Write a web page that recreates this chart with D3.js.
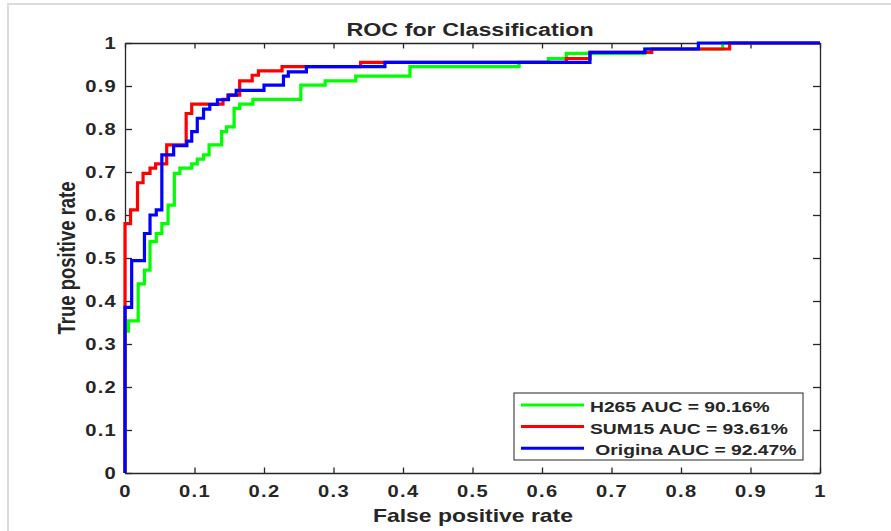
<!DOCTYPE html>
<html>
<head>
    <meta http-equiv="Content-Type" content="text/html;charset=utf-8">
    <title>ROC for Classification</title>
    <script type="text/javascript" src="https://d3js.org/d3.v7.min.js"></script>
    <style>
        html, body {
            margin: 0;
            padding: 0;
            background: #fff;
        }

        text {
            font-family: Arial, "Liberation Sans", sans-serif;
            font-weight: bold;
            fill: #262626;
        }

        .axis path,
        .axis line {
            fill: none;
            stroke: #262626;
            stroke-width: 1.3px;
        }

        .axis text {
            font-size: 16px;
            letter-spacing: 1px;
        }

        path.roc {
            fill: none;
            stroke-width: 3.2px;
        }
    </style>
</head>
<body>
<script type="text/javascript">

    // ---- data ----
    var xTicks = [0, 0.1, 0.2, 0.3, 0.4, 0.5, 0.6, 0.7, 0.8, 0.9, 1];
    var xTickLabels = ["0", "0.1", "0.2", "0.3", "0.4", "0.5", "0.6", "0.7", "0.8", "0.9", "1"];
    var yTicks = [0, 0.1, 0.2, 0.3, 0.4, 0.5, 0.6, 0.7, 0.8, 0.9, 1];
    var yTickLabels = ["0", "0.1", "0.2", "0.3", "0.4", "0.5", "0.6", "0.7", "0.8", "0.9", "1"];

    var seriesNames = ["H265 AUC = 90.16%", "SUM15 AUC = 93.61%", " Origina AUC = 92.47%"];
    var seriesColors = ["#00ff00", "#ff0000", "#0000ff"];

    // each point = (fpr where the curve rises, tpr after the rise)
    var h265Fpr = [0, 0, 0.005, 0.019, 0.028, 0.036, 0.045, 0.053, 0.062, 0.071, 0.079, 0.096, 0.104, 0.113,
        0.121, 0.139, 0.146, 0.157, 0.165, 0.184, 0.253, 0.288, 0.332, 0.41, 0.567, 0.609, 0.635, 0.748, 0.86, 1];
    var h265Tpr = [0, 0.33, 0.354, 0.44, 0.472, 0.538, 0.557, 0.58, 0.623, 0.697, 0.709, 0.719, 0.73, 0.74,
        0.763, 0.794, 0.805, 0.848, 0.858, 0.869, 0.902, 0.912, 0.923, 0.945, 0.955, 0.964, 0.976, 0.986, 1, 1];

    var sum15Fpr = [0, 0, 0.008, 0.018, 0.026, 0.036, 0.044, 0.06, 0.088, 0.096, 0.141, 0.148, 0.165, 0.183,
        0.192, 0.226, 0.339, 0.635, 0.669, 0.758, 0.87, 1];
    var sum15Tpr = [0, 0.58, 0.612, 0.675, 0.697, 0.709, 0.719, 0.763, 0.836, 0.858, 0.869, 0.879, 0.912, 0.925,
        0.935, 0.945, 0.955, 0.964, 0.978, 0.986, 1, 1];

    var origFpr = [0, 0, 0.0096, 0.028, 0.036, 0.045, 0.053, 0.07, 0.089, 0.096, 0.104, 0.113, 0.122, 0.133,
        0.149, 0.16, 0.2, 0.228, 0.235, 0.261, 0.374, 0.669, 0.748, 0.825, 1];
    var origTpr = [0, 0.385, 0.494, 0.557, 0.6, 0.612, 0.74, 0.761, 0.772, 0.794, 0.825, 0.846, 0.857, 0.868,
        0.879, 0.89, 0.902, 0.923, 0.933, 0.945, 0.955, 0.978, 0.986, 1, 1];

    var series = [
        {name: seriesNames[0], color: seriesColors[0], fpr: h265Fpr, tpr: h265Tpr},
        {name: seriesNames[1], color: seriesColors[1], fpr: sum15Fpr, tpr: sum15Tpr},
        {name: seriesNames[2], color: seriesColors[2], fpr: origFpr, tpr: origTpr}
    ];

    // ---- layout ----
    var W = 891, H = 531;
    var margin = {top: 43, left: 125};
    var width = 695, height = 430;
    var sx = 1.26; // the picture's text is stretched horizontally

    var svg = d3.select("body").append("svg")
        .attr("width", W).attr("height", H);

    svg.append("rect").attr("width", W).attr("height", H).attr("fill", "#fff");

    // light frame at top and left of the picture
    svg.append("line").attr("x1", 7).attr("y1", 4).attr("x2", W).attr("y2", 4)
        .style("stroke", "#dcdcdc").style("stroke-width", 2);
    svg.append("line").attr("x1", 8).attr("y1", 3).attr("x2", 8).attr("y2", H)
        .style("stroke", "#dcdcdc").style("stroke-width", 2);

    var g = svg.append("g").attr("transform", "translate(" + margin.left + "," + margin.top + ")");

    var x = d3.scaleLinear().domain([0, 1]).range([0, width]);
    var y = d3.scaleLinear().domain([0, 1]).range([height, 0]);

    // axes, ticks pointing inward
    g.append("g").attr("class", "axis x")
        .attr("transform", "translate(0," + height + ")")
        .call(d3.axisBottom(x).tickValues(xTicks).tickSizeInner(-5.5).tickSizeOuter(0).tickPadding(12.5)
            .tickFormat(function (d, i) { return xTickLabels[i]; }));
    g.append("g").attr("class", "axis x")
        .call(d3.axisTop(x).tickValues(xTicks).tickSizeInner(-5.5).tickSizeOuter(0).tickFormat(""));
    g.append("g").attr("class", "axis y")
        .call(d3.axisLeft(y).tickValues(yTicks).tickSizeInner(-7).tickSizeOuter(0).tickPadding(7)
            .tickFormat(function (d, i) { return yTickLabels[i]; }));
    g.append("g").attr("class", "axis y")
        .attr("transform", "translate(" + width + ",0)")
        .call(d3.axisRight(y).tickValues(yTicks).tickSizeInner(-7).tickSizeOuter(0).tickFormat(""));

    g.selectAll(".axis text")
        .attr("fill", "#262626")
        .attr("transform", "scale(" + sx + ",1)");
    g.selectAll(".axis.y text").attr("x", -8 / sx);

    // ROC curves
    var line = d3.line()
        .x(function (d) { return x(d[0]); })
        .y(function (d) { return y(d[1]); })
        .curve(d3.curveStepAfter);

    g.selectAll(".roc")
        .data(series).enter()
        .append("path")
        .attr("class", "roc")
        .attr("d", function (d) { return line(d.fpr.map(function (f, i) { return [f, d.tpr[i]]; })); })
        .style("stroke", function (d) { return d.color; });

    // title and axis labels
    svg.append("text")
        .attr("text-anchor", "middle")
        .attr("transform", "translate(470,36) scale(" + sx + ",1)")
        .style("font-size", "18.5px")
        .text("ROC for Classification");

    svg.append("text")
        .attr("text-anchor", "middle")
        .attr("transform", "translate(473,522) scale(" + sx + ",1)")
        .style("font-size", "18.2px")
        .text("False positive rate");

    svg.append("text")
        .attr("text-anchor", "middle")
        .attr("transform", "translate(75,258) scale(" + sx + ",1) rotate(-90)")
        .style("font-size", "18.5px")
        .text("True positive rate");

    // legend
    var legend = svg.append("g").attr("transform", "translate(514,393)");
    legend.append("rect")
        .attr("width", 289).attr("height", 67)
        .attr("fill", "#fff")
        .attr("stroke", "#262626").attr("stroke-width", 1);

    var item = legend.selectAll(".legend")
        .data(series).enter()
        .append("g")
        .attr("class", "legend")
        .attr("transform", function (d, i) { return "translate(0," + (12 + i * 21.6) + ")"; });
    item.append("line")
        .attr("x1", 7).attr("x2", 70)
        .style("stroke", function (d) { return d.color; })
        .style("stroke-width", 3);
    item.append("text")
        .attr("transform", "translate(76,7) scale(1.32,1)")
        .style("font-size", "14.6px")
        .style("white-space", "pre")
        .text(function (d) { return d.name; });

</script>
</body>
</html>
